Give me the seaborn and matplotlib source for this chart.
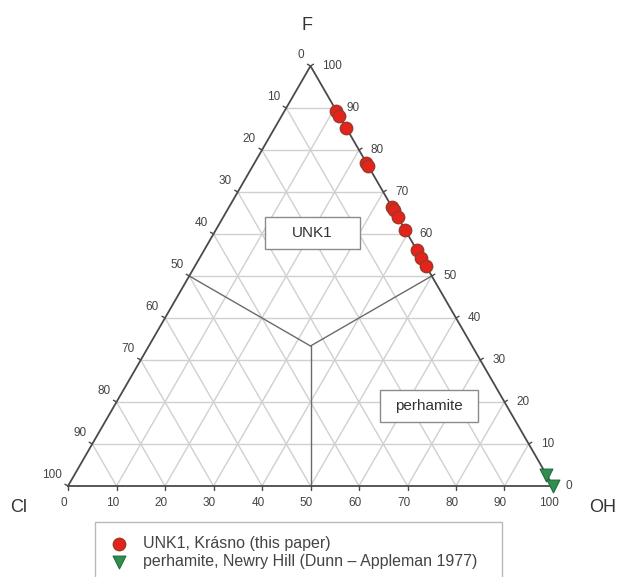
import numpy as np
import pandas as pd
import matplotlib
matplotlib.use("Agg")
import matplotlib.pyplot as plt
from matplotlib.patches import Rectangle
import seaborn as sns

# ---------------- data (percent) ----------------
unk_F  = [89.3, 88.1, 85.2, 77.0, 76.2, 66.5, 65.6, 64.1, 60.9, 56.1, 54.3, 52.3]
unk_Cl = [0.0, 0.0, 0.0, 0.0, 0.0, 0.0, 0.0, 0.0, 0.0, 0.0, 0.0, 0.0]
per_F  = [2.7, 0.0]
per_Cl = [0.0, 0.0]
tick_values = [0, 10, 20, 30, 40, 50, 60, 70, 80, 90, 100]
series_labels = ["UNK1, Krásno (this paper)",
                 "perhamite, Newry Hill (Dunn – Appleman 1977)"]
field_labels = ["UNK1", "perhamite"]
vertex_labels = ["F", "Cl", "OH"]

sns.set_style("white")
plt.rcParams["font.family"] = ["Liberation Sans", "DejaVu Sans"]

H = np.sqrt(3) / 2
PX = 4.85  # pixels per ternary unit


def tern(F, OH):
    F = np.asarray(F, float)
    OH = np.asarray(OH, float)
    return OH + F / 2, F * H


unk_OH = [100 - f - c for f, c in zip(unk_F, unk_Cl)]
per_OH = [100 - f - c for f, c in zip(per_F, per_Cl)]
ux, uy = tern(unk_F, unk_OH)
px_, py_ = tern(per_F, per_OH)
df_unk = pd.DataFrame({"x": ux, "y": uy})
df_per = pd.DataFrame({"x": px_, "y": py_})

fig = plt.figure(figsize=(6.21, 5.77), dpi=100)
ax = fig.add_axes([0, 0, 1, 1])
ax.set_xlim(-68 / PX, (621 - 68) / PX)
ax.set_ylim(-(577 - 486) / PX, 486 / PX)
ax.set_aspect("equal")
ax.axis("off")

grid_c = "#d0d0d0"
# grid lines
for i in range(10, 100, 10):
    # constant F
    x1, y1 = tern(i, 0); x2, y2 = tern(i, 100 - i)
    ax.plot([x1, x2], [y1, y2], color=grid_c, lw=1.0, zorder=1)
    # constant OH
    x1, y1 = tern(0, i); x2, y2 = tern(100 - i, i)
    ax.plot([x1, x2], [y1, y2], color=grid_c, lw=1.0, zorder=1)
    # constant Cl
    x1, y1 = tern(0, 100 - i); x2, y2 = tern(100 - i, 0)
    ax.plot([x1, x2], [y1, y2], color=grid_c, lw=1.0, zorder=1)

# field boundaries
cx, cy = tern(100 / 3, 100 / 3)
for (f, o) in [(50, 0), (50, 50), (0, 50)]:
    x1, y1 = tern(f, o)
    ax.plot([x1, cx], [y1, cy], color="#6a6a6a", lw=1.0, zorder=2)

# triangle edges
tx, ty = tern([0, 0, 100, 0], [0, 100, 0, 0])
ax.plot(tx, ty, color="#4a4a4a", lw=1.3, zorder=3, solid_joinstyle="miter")

tl = 3.5 / PX
lab_c = "#444444"
for k in tick_values:
    # bottom (OH)
    bx, by = tern(0, k)
    ax.plot([bx, bx], [by, by - tl], color="#4a4a4a", lw=1.0, zorder=3)
    ax.text(bx - 4 / PX, by - 17 / PX, str(k), ha="center", va="center",
            fontsize=8.5, color=lab_c)
    # left (Cl)
    lx, ly = tern(100 - k, 0)
    ax.plot([lx, lx - tl * H], [ly, ly + tl * 0.5], color="#4a4a4a", lw=1.0, zorder=3)
    ax.text(lx - 6 / PX, ly + 11 / PX, str(k), ha="right", va="center",
            fontsize=8.5, color=lab_c)
    # right (F)
    rx, ry = tern(k, 100 - k)
    ax.plot([rx, rx + tl * H], [ry, ry + tl * 0.5], color="#4a4a4a", lw=1.0, zorder=3)
    ax.text(rx + 12 / PX, ry, str(k), ha="left", va="center",
            fontsize=8.5, color=lab_c)

# vertex labels
ax.text((307 - 68) / PX, (486 - 25) / PX, vertex_labels[0], ha="center", va="center",
        fontsize=13, color="#333333")
ax.text((19 - 68) / PX, (486 - 508) / PX, vertex_labels[1], ha="center", va="center",
        fontsize=13, color="#333333")
ax.text((603 - 68) / PX, (486 - 507) / PX, vertex_labels[2], ha="center", va="center",
        fontsize=13, color="#333333")

# field label boxes
for lab, (cxp, cyp, w, h) in zip(field_labels, [(312.5, 233, 95, 32), (429, 406, 98, 32)]):
    ux0 = (cxp - 68) / PX
    uy0 = (486 - cyp) / PX
    ax.add_patch(Rectangle((ux0 - w / PX / 2, uy0 - h / PX / 2), w / PX, h / PX,
                           facecolor="white", edgecolor="#8a8a8a", lw=1.0, zorder=4))
    ax.text(ux0, uy0, lab, ha="center", va="center", fontsize=11, color="#333333", zorder=5)

# data
sns.scatterplot(data=df_unk, x="x", y="y", ax=ax, marker="o", s=80,
                color="#e3231c", edgecolor="#9c3a28", linewidth=1.0,
                label=series_labels[0], zorder=6)
sns.scatterplot(data=df_per, x="x", y="y", ax=ax, marker="v", s=85,
                color="#2f8f4f", edgecolor="#236b3b", linewidth=0.8,
                label=series_labels[1], zorder=6)

leg = ax.legend(loc="upper left",
                bbox_to_anchor=(95 / 621, 0, 407 / 621, 1 - 522 / 577),
                bbox_transform=fig.transFigure, mode="expand",
                frameon=True, fancybox=False, fontsize=11.5,
                labelspacing=0.15, handletextpad=0.9, borderpad=0.9,
                handlelength=1.2, borderaxespad=0)
leg.get_frame().set_edgecolor("#a8a8a8")
leg.get_frame().set_linewidth(1.0)
for t in leg.get_texts():
    t.set_color("#444444")

fig.savefig("out.png", dpi=100)
